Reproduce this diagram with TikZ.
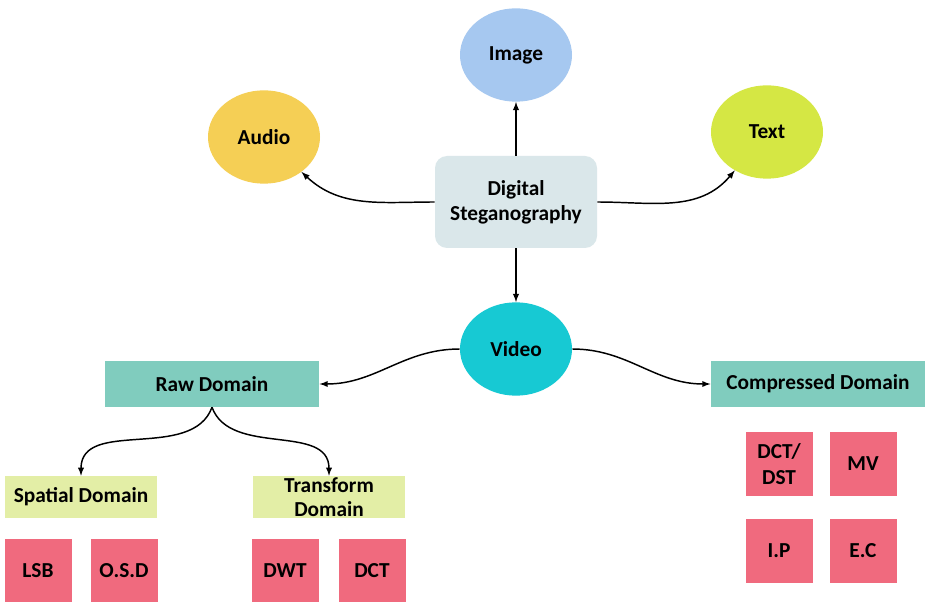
\documentclass[tikz,border=0pt]{standalone}
\usepackage{fontspec}
\setmainfont{Carlito}
\usetikzlibrary{arrows,shapes}
\definecolor{imagecol}{HTML}{A6C8F0}
\definecolor{audiocol}{HTML}{F5CF55}
\definecolor{textcol}{HTML}{D5E744}
\definecolor{videocol}{HTML}{17C9D3}
\definecolor{stegcol}{HTML}{DAE7EA}
\definecolor{domaincol}{HTML}{80CCBE}
\definecolor{subcol}{HTML}{E3EEA6}
\definecolor{leafcol}{HTML}{F06A7E}
\tikzstyle{bubble}=[ellipse,minimum width=84pt,minimum height=70pt,inner sep=0pt,font=\bfseries\fontsize{16}{19}\selectfont]
\tikzstyle{domainbox}=[rectangle,fill=domaincol,minimum width=161pt,minimum height=34.5pt,inner sep=0pt,font=\bfseries\fontsize{16}{19}\selectfont]
\tikzstyle{subdomain}=[rectangle,fill=subcol,minimum width=114pt,minimum height=31.5pt,inner sep=0pt,align=center,font=\bfseries\fontsize{16}{18}\selectfont]
\tikzstyle{leaf}=[rectangle,fill=leafcol,minimum width=50.25pt,minimum height=48pt,inner sep=0pt,align=center,font=\bfseries\fontsize{16}{19}\selectfont]
\tikzstyle{edge} = [draw,line width=1.1pt,-latex]

\begin{document}
\begin{tikzpicture}[x=0.75pt,y=-0.75pt]

    \useasboundingbox[fill=white] (0,0) rectangle (925,602);

    % centre node
    \node[rectangle,rounded corners=9pt,fill=stegcol,minimum width=121.5pt,minimum height=69pt,align=center,
          font=\bfseries\fontsize{16}{19}\selectfont] (steg) at (516,202) {Digital\\Steganography};

    % media types
    \foreach \pos/ \name/ \txt/ \col in {{(516,55)/image/Image/imagecol},{(264,137)/audio/Audio/audiocol},
                                       {(767,132)/text/Text/textcol},{(516,349)/video/Video/videocol}}
        \node[bubble,fill=\col] (\name) at \pos {\txt};

    % video domains
    \node[domainbox] (raw) at (212,384) {Raw Domain};
    \node[domainbox] (comp) at (818,384) {Compressed Domain};
    \node[subdomain] (spatial) at (81,497) {Spatial Domain};
    \node[subdomain] (transform) at (329,497) {Transform\\Domain};

    \foreach \pos/ \name/ \txt in {{(38,571)/lsb/LSB},{(124,571)/osd/O.S.D},{(285,571)/dwt/DWT},{(372,571)/dct/DCT},
                                  {(779,464)/dctdst/{DCT/\\DST}},{(863,464)/mv/MV},{(779,551)/ip/I.P},{(863,551)/ec/E.C}}
        \node[leaf] (\name) at \pos {\txt};

    % Connect vertices with edges
    \path[edge] (steg) -- (image);
    \path[edge] (steg) -- (video);
    \path[edge] (steg.west) to[out=180,in=-43] (audio);
    \path[edge] (steg.east) to[out=0,in=230] (text);
    \path[edge] (video.west) to[out=180,in=0] (raw.east);
    \path[edge] (video.east) to[out=0,in=180] (comp.west);
    \path[edge] (raw.south) to[out=-110,in=90] (spatial.north);
    \path[edge] (raw.south) to[out=-70,in=90] (transform.north);

\end{tikzpicture}
\end{document}
